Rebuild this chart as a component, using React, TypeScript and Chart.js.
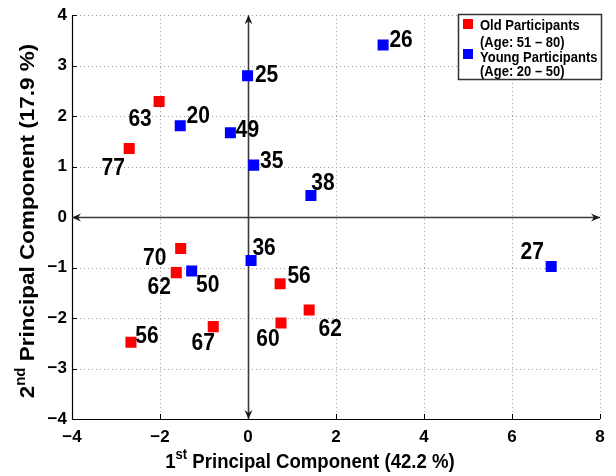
import React, { useEffect, useRef } from "react";
import { Chart, registerables } from "chart.js";

Chart.register(...registerables);

const oldAges = ["77", "63", "70", "62", "56", "67", "56", "60", "62"];
const oldPC1 = [-2.7, -2.02, -1.53, -1.63, -2.66, -0.79, 0.73, 0.75, 1.39];
const oldPC2 = [1.36, 2.29, -0.62, -1.1, -2.48, -2.17, -1.32, -2.1, -1.84];

const youngAges = ["20", "49", "25", "35", "38", "36", "27", "50", "26"];
const youngPC1 = [-1.54, -0.4, -0.01, 0.13, 1.43, 0.07, 6.89, -1.28, 3.07];
const youngPC2 = [1.81, 1.67, 2.8, 1.03, 0.43, -0.86, -0.98, -1.07, 3.41];

// label placement offsets (px) relative to the marker
const oldLabelOffsets = [[-16, 19], [-19, 17], [-26, 9], [-17, 14], [16, -7], [-10, 16], [19, -8], [-13, 15], [21, 18]];
const youngLabelOffsets = [[18, -10], [17, -3], [19, -1], [18, -5], [12, -13], [13, -13], [-19, -15], [16, 13], [18, -6]];

const xTicks = [-4, -2, 0, 2, 4, 6, 8];
const yTicks = [-4, -3, -2, -1, 0, 1, 2, 3, 4];

const legendLines = ["Old Participants", "(Age: 51 \u2013 80)", "Young Participants", "(Age: 20 \u2013 50)"];
const xTitle = ["1", "st", " Principal Component (42.2 %)"];
const yTitle = ["2", "nd", " Principal Component (17.9 %)"];

const FONT = "'Liberation Sans', Arial, Helvetica, sans-serif";

function arrow(ctx: CanvasRenderingContext2D, x: number, y: number, dx: number, dy: number) {
  const L = 9, W = 4;
  const px = -dy, py = dx;
  ctx.beginPath();
  ctx.moveTo(x, y);
  ctx.lineTo(x - dx * L + px * W, y - dy * L + py * W);
  ctx.lineTo(x - dx * (L - 3), y - dy * (L - 3));
  ctx.lineTo(x - dx * L - px * W, y - dy * L - py * W);
  ctx.closePath();
  ctx.fill();
}

function stretchText(ctx: CanvasRenderingContext2D, t: string, x: number, y: number, k: number) {
  ctx.save();
  ctx.translate(x, y);
  ctx.scale(1, k);
  ctx.fillText(t, 0, 0);
  ctx.restore();
}

function drawSupText(ctx: CanvasRenderingContext2D, parts: string[], cx: number, cy: number, size: number, k: number) {
  const small = Math.round(size * 0.68);
  ctx.font = `bold ${size}px ${FONT}`;
  const w0 = ctx.measureText(parts[0]).width;
  ctx.font = `bold ${small}px ${FONT}`;
  const w1 = ctx.measureText(parts[1]).width;
  ctx.font = `bold ${size}px ${FONT}`;
  const w2 = ctx.measureText(parts[2]).width;
  const total = w0 + w1 + w2;
  let x = cx - total / 2;
  ctx.textAlign = "left";
  ctx.textBaseline = "alphabetic";
  stretchText(ctx, parts[0], x, cy, k);
  x += w0;
  ctx.font = `bold ${small}px ${FONT}`;
  stretchText(ctx, parts[1], x, cy - size * 0.42 * k, k);
  x += w1;
  ctx.font = `bold ${size}px ${FONT}`;
  stretchText(ctx, parts[2], x, cy, k);
}

const decorPlugin = {
  id: "decor",
  beforeDatasetsDraw(chart: any) {
    const ctx = chart.ctx as CanvasRenderingContext2D;
    const xs = chart.scales.x;
    const ys = chart.scales.y;
    const { left, right, top, bottom } = chart.chartArea;
    ctx.save();
    // dotted grid
    ctx.strokeStyle = "#9a9a9a";
    ctx.lineWidth = 1;
    ctx.setLineDash([1, 3]);
    xTicks.forEach((v) => {
      if (v === -4) return;
      const px = Math.round(xs.getPixelForValue(v)) + 0.5;
      ctx.beginPath();
      ctx.moveTo(px, top);
      ctx.lineTo(px, bottom);
      ctx.stroke();
    });
    yTicks.forEach((v) => {
      if (v === -4) return;
      const py = Math.round(ys.getPixelForValue(v)) + 0.5;
      ctx.beginPath();
      ctx.moveTo(left, py);
      ctx.lineTo(right, py);
      ctx.stroke();
    });
    ctx.setLineDash([]);
    // left and bottom axes
    ctx.strokeStyle = "#000";
    ctx.lineWidth = 1.2;
    ctx.beginPath();
    ctx.moveTo(left + 0.5, top);
    ctx.lineTo(left + 0.5, bottom + 0.5);
    ctx.lineTo(right, bottom + 0.5);
    ctx.stroke();
    ctx.lineWidth = 1;
    xTicks.forEach((v) => {
      const px = Math.round(xs.getPixelForValue(v)) + 0.5;
      ctx.beginPath();
      ctx.moveTo(px, bottom);
      ctx.lineTo(px, bottom - 5);
      ctx.stroke();
    });
    yTicks.forEach((v) => {
      const py = Math.round(ys.getPixelForValue(v)) + 0.5;
      ctx.beginPath();
      ctx.moveTo(left, py);
      ctx.lineTo(left + 5, py);
      ctx.stroke();
    });
    // zero axes with arrows
    const x0 = Math.round(xs.getPixelForValue(0)) + 0.5;
    const y0 = Math.round(ys.getPixelForValue(0)) + 0.5;
    ctx.strokeStyle = "#3a3a3a";
    ctx.fillStyle = "#1a1a1a";
    ctx.lineWidth = 1.6;
    ctx.beginPath();
    ctx.moveTo(left, y0);
    ctx.lineTo(right, y0);
    ctx.moveTo(x0, top);
    ctx.lineTo(x0, bottom);
    ctx.stroke();
    arrow(ctx, right, y0, 1, 0);
    arrow(ctx, left, y0, -1, 0);
    arrow(ctx, x0, top, 0, -1);
    arrow(ctx, x0, bottom, 0, 1);
    ctx.restore();
  },
  afterDatasetsDraw(chart: any) {
    const ctx = chart.ctx as CanvasRenderingContext2D;
    const xs = chart.scales.x;
    const ys = chart.scales.y;
    ctx.save();
    ctx.fillStyle = "#000";
    ctx.font = `bold 21px ${FONT}`;
    ctx.textAlign = "center";
    ctx.textBaseline = "middle";
    const put = (labels: string[], xsv: number[], ysv: number[], offs: number[][]) => {
      labels.forEach((t, i) => {
        const px = xs.getPixelForValue(xsv[i]) + offs[i][0];
        const py = ys.getPixelForValue(ysv[i]) + offs[i][1];
        stretchText(ctx, t, px, py + 1, 1.13);
      });
    };
    put(oldAges, oldPC1, oldPC2, oldLabelOffsets);
    put(youngAges, youngPC1, youngPC2, youngLabelOffsets);

    // legend
    const lx = 458.5, ly = 14.5, lw = 143, lh = 65;
    ctx.fillStyle = "#fff";
    ctx.fillRect(lx, ly, lw, lh);
    ctx.strokeStyle = "#333";
    ctx.lineWidth = 1.5;
    ctx.strokeRect(lx, ly, lw, lh);
    ctx.fillStyle = "#ff0000";
    ctx.fillRect(463, 19, 10, 10);
    ctx.fillStyle = "#0000ff";
    ctx.fillRect(463, 49, 10, 10);
    ctx.fillStyle = "#000";
    ctx.font = `bold 13px ${FONT}`;
    ctx.textAlign = "left";
    ctx.textBaseline = "middle";
    const rows = [25, 42, 57, 71];
    legendLines.forEach((t, i) => stretchText(ctx, t, 480, rows[i] + 1, 1.1));

    // axis titles
    ctx.fillStyle = "#000";
    drawSupText(ctx, xTitle, 310, 468, 18.6, 1.13);
    ctx.save();
    ctx.translate(34, 221);
    ctx.rotate(-Math.PI / 2);
    drawSupText(ctx, yTitle, 0, 0, 22.5, 0.93);
    ctx.restore();
    ctx.restore();
  },
};

export default function App() {
  const ref = useRef<HTMLCanvasElement | null>(null);
  useEffect(() => {
    document.body.style.margin = "0";
    const canvas = ref.current;
    if (!canvas) return;
    const minus = (v: any) => String(v).replace("-", "\u2212");
    const chart = new Chart(canvas, {
      type: "scatter",
      data: {
        datasets: [
          {
            label: "Old Participants",
            data: oldPC1.map((x, i) => ({ x, y: oldPC2[i] })),
            backgroundColor: "#ff0000",
            borderWidth: 0,
            pointStyle: "rect",
            pointRadius: 7.8,
          },
          {
            label: "Young Participants",
            data: youngPC1.map((x, i) => ({ x, y: youngPC2[i] })),
            backgroundColor: "#0000ff",
            borderWidth: 0,
            pointStyle: "rect",
            pointRadius: 7.8,
          },
        ],
      },
      options: {
        responsive: false,
        animation: false,
        layout: { padding: { top: 14, right: 16, left: 0, bottom: 0 } },
        plugins: { legend: { display: false }, tooltip: { enabled: false } },
        scales: {
          x: {
            type: "linear",
            min: -4,
            max: 8,
            afterBuildTicks: (s: any) => { s.ticks = xTicks.map((v) => ({ value: v })); },
            afterFit: (s: any) => { s.height = 57; },
            grid: { display: false, drawTicks: false },
            border: { display: false },
            ticks: {
              padding: 8,
              color: "#000",
              font: { family: FONT, size: 17, weight: "bold" },
              callback: minus,
              maxRotation: 0,
              autoSkip: false,
            },
          },
          y: {
            type: "linear",
            min: -4,
            max: 4,
            afterBuildTicks: (s: any) => { s.ticks = yTicks.map((v) => ({ value: v })); },
            afterFit: (s: any) => { s.width = 72; },
            grid: { display: false, drawTicks: false },
            border: { display: false },
            ticks: {
              padding: 5,
              color: "#000",
              font: { family: FONT, size: 17, weight: "bold" },
              callback: minus,
              autoSkip: false,
            },
          },
        },
      } as any,
      plugins: [decorPlugin],
    });
    return () => chart.destroy();
  }, []);
  return <canvas ref={ref} width={616} height={476} style={{ display: "block", width: 616, height: 476 }} />;
}
